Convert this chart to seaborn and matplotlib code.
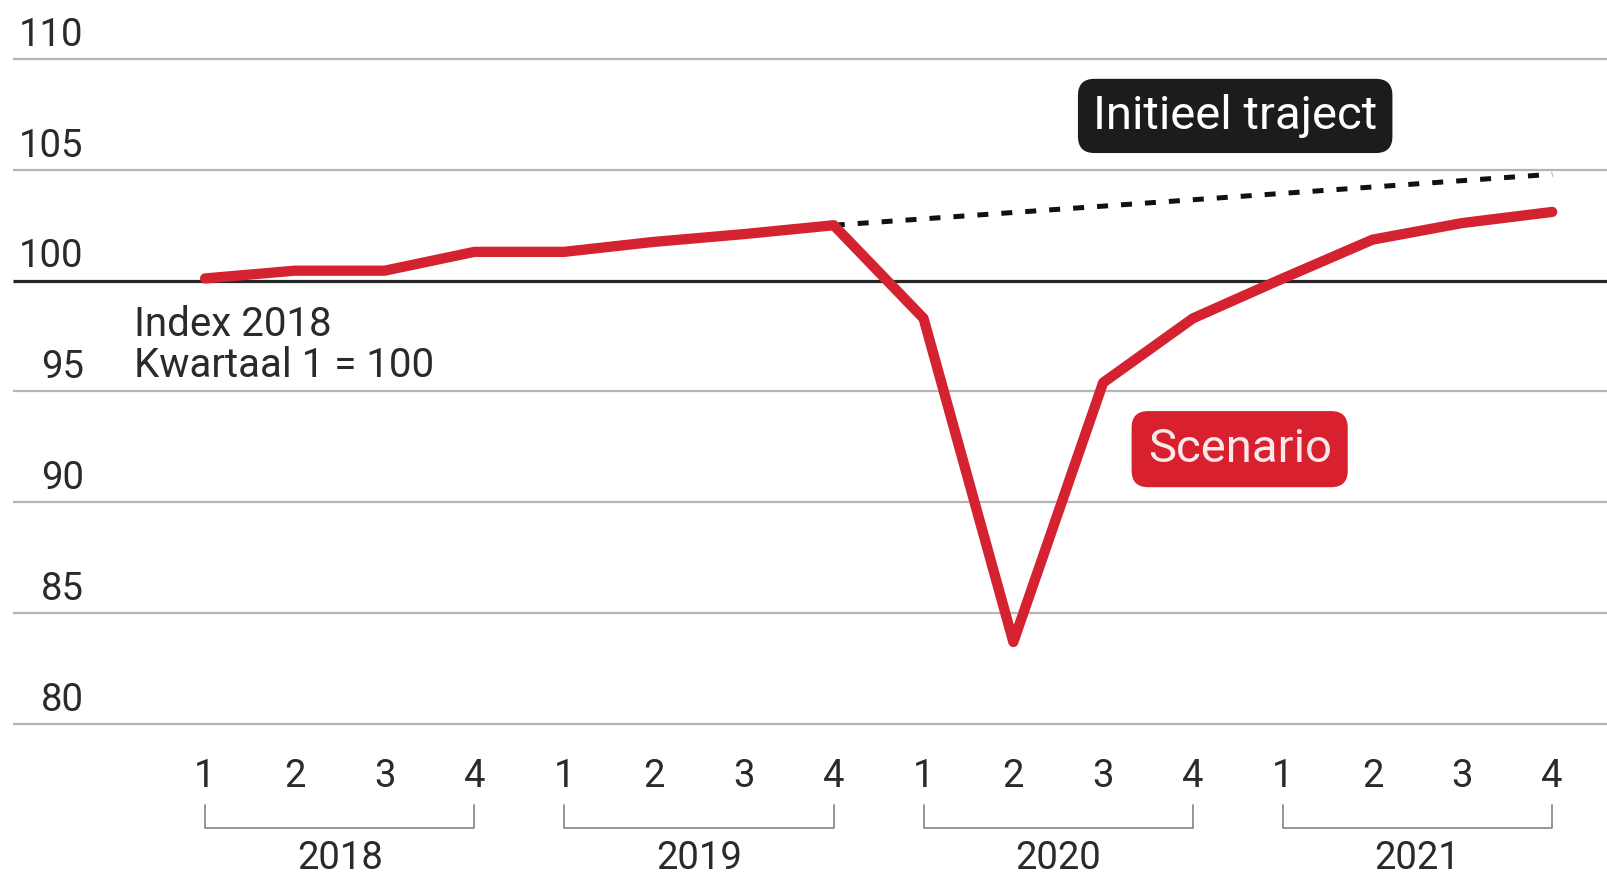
import matplotlib
matplotlib.use("Agg")
import matplotlib.pyplot as plt
import seaborn as sns
import pandas as pd

# data
years = ["2018", "2019", "2020", "2021"]
quarters = ["1", "2", "3", "4"]
scenario = [100.1, 100.45, 100.45, 101.3, 101.3, 101.75, 102.1, 102.5,
            98.3, 83.7, 95.4, 98.3, 100.1, 101.85, 102.6, 103.1]
initial_q = [7, 15]
initial = [102.5, 104.8]
y_ticks = [80, 85, 90, 95, 100, 105, 110]

RED = "#d42231"
TEXT = "#2a2a2a"

sns.set_theme(style="white")
plt.rcParams["font.family"] = ["Roboto", "DejaVu Sans"]

df = pd.DataFrame({"q": list(range(len(scenario))), "index": scenario})
df_init = pd.DataFrame({"q": initial_q, "index": initial})

fig = plt.figure(figsize=(16.07, 8.75), dpi=100)
ax = fig.add_axes([0, 0, 1, 1])

# gridlines
x_left, x_right = -2.14, 15.7
for v in y_ticks:
    if v == 100:
        ax.hlines(v, x_left, x_right, color="#262626", lw=2.3, zorder=2)
    else:
        ax.hlines(v, x_left, x_right, color="#b5b5b5", lw=1.6, zorder=1)
    ax.text(-1.35, v + 0.6, str(v), ha="right", va="baseline",
            fontsize=27.5, color=TEXT)

# initial trajectory (dashed) and scenario (red)
sns.lineplot(data=df_init, x="q", y="index", ax=ax, color="#111111",
             lw=3.6, linestyle=(0, (2.2, 2.6)), zorder=3)
sns.lineplot(data=df, x="q", y="index", ax=ax, color=RED, lw=7.4,
             solid_capstyle="round", solid_joinstyle="round", zorder=4)

# quarter labels and year brackets
for i in range(len(scenario)):
    ax.text(i, 77.16, quarters[i % 4], ha="center", va="baseline",
            fontsize=27.5, color=TEXT)
for k, yr in enumerate(years):
    x0, x1 = 4 * k, 4 * k + 3
    ax.plot([x0, x0, x1, x1], [76.35, 75.31, 75.31, 76.35],
            color="#8c8c8c", lw=1.3)
    ax.text((x0 + x1) / 2, 73.45, yr, ha="center", va="baseline",
            fontsize=27.5, color=TEXT)

ax.text(-0.79, 97.51, "Index 2018", ha="left", va="baseline",
        fontsize=29, color=TEXT)
ax.text(-0.79, 95.66, "Kwartaal 1 = 100", ha="left", va="baseline",
        fontsize=29, color=TEXT)

# label boxes
ax.text(11.47, 107.43, "Initieel traject", ha="center", va="center",
        fontsize=34, color="white", zorder=5,
        bbox=dict(boxstyle="round,pad=0.32,rounding_size=0.35",
                  fc="#1c1c1c", ec="none"))
ax.text(11.52, 92.4, "Scenario", ha="center", va="center",
        fontsize=34, color="#fbe9e9", zorder=5,
        bbox=dict(boxstyle="round,pad=0.34,rounding_size=0.35",
                  fc="#d9202e", ec="none"))

ax.set_xlim(-2.283, 15.61)
ax.set_ylim(73.19, 112.66)
ax.axis("off")

fig.savefig("out.png", dpi=100)
